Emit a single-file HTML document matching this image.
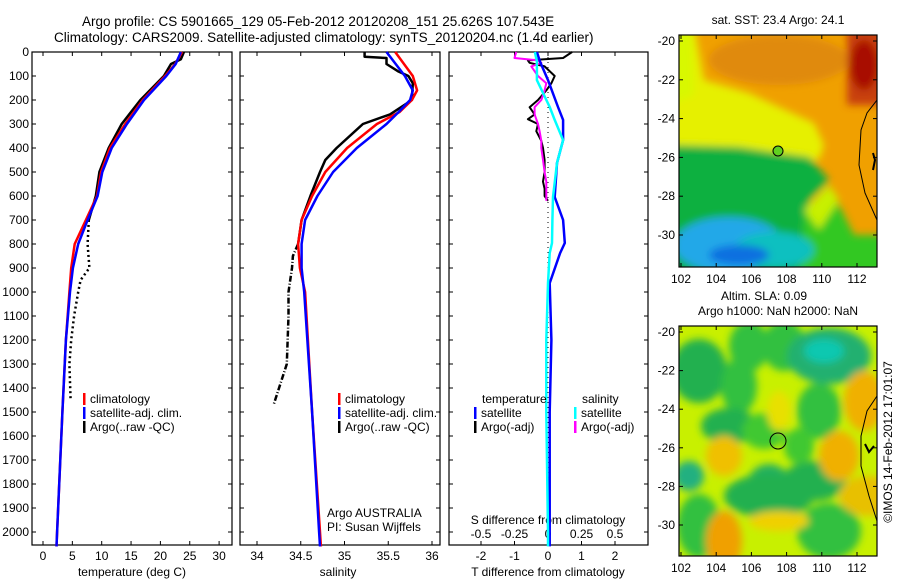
<!DOCTYPE html>
<html><head><meta charset="utf-8">
<style>
body{margin:0;background:#fff;}
svg{display:block;font-family:"Liberation Sans",sans-serif;}
</style></head>
<body>
<svg id="fig" width="900" height="580" viewBox="0 0 900 580">
<defs>
<filter id="bl" x="-20%" y="-20%" width="140%" height="140%"><feGaussianBlur stdDeviation="4"/></filter>
<clipPath id="c1"><rect x="0" y="0" width="198" height="232"/></clipPath>
<clipPath id="c2"><rect x="0" y="0" width="198" height="230"/></clipPath>
</defs>
<text x="82" y="26" font-size="13.5">Argo profile: CS 5901665_129 05-Feb-2012 20120208_151 25.626S 107.543E</text>
<text x="54" y="42" font-size="13.5">Climatology: CARS2009. Satellite-adjusted climatology: synTS_20120204.nc (1.4d earlier)</text>

<!-- Map 1 -->
<text x="778" y="24" font-size="12" text-anchor="middle">sat. SST: 23.4  Argo: 24.1</text>
<g transform="translate(679,35)">
 <g clip-path="url(#c1)">
  <rect x="-10" y="-10" width="220" height="260" fill="#f0a000"/>
  <g filter="url(#bl)">
   <ellipse cx="100" cy="25" rx="70" ry="25" fill="#e08a10"/>
   <rect x="168" y="-10" width="40" height="80" fill="#c84010"/>
   <ellipse cx="185" cy="30" rx="14" ry="25" fill="#a81000"/>
   <polygon points="-10,-10 15,-10 25,45 70,58 100,72 135,88 145,110 140,125 -10,115" fill="#e6f000"/>
   <polygon points="-10,-10 12,-10 15,60 -10,70" fill="#d8f800"/>
   <polygon points="-10,110 60,112 100,118 130,122 150,145 130,165 120,240 -10,240" fill="#10b040"/>
   <polygon points="120,240 125,180 150,150 175,200 210,200 210,240" fill="#30c820"/>
   <polygon points="125,175 150,150 160,165 140,195" fill="#c8f000"/>
   <ellipse cx="50" cy="210" rx="55" ry="28" fill="#20a8e8"/>
   <ellipse cx="95" cy="215" rx="40" ry="18" fill="#10c0c0"/>
   <ellipse cx="60" cy="220" rx="30" ry="10" fill="#1070e0"/>
  </g>
  <path d="M198,65 L188,78 L182,95 L180,130 L186,158 L198,185" fill="none" stroke="#000" stroke-width="1"/>
  <path d="M194,118 L196,125 L194,135" fill="none" stroke="#000" stroke-width="2"/>
 </g>
 <rect x="0" y="0" width="198" height="232" fill="none" stroke="#000" stroke-width="1.2"/>
 <circle cx="99" cy="116" r="5" fill="#60d020" stroke="#000"/>
</g>

<!-- Map 2 -->
<text x="764" y="300" font-size="12" text-anchor="middle">Altim. SLA: 0.09</text>
<text x="778" y="315" font-size="12" text-anchor="middle">Argo h1000: NaN h2000: NaN</text>
<g transform="translate(679,326)">
 <g clip-path="url(#c2)">
  <rect x="-10" y="-10" width="220" height="250" fill="#c8f000"/>
  <g filter="url(#bl)">
   <ellipse cx="20" cy="45" rx="28" ry="32" fill="#20b050"/>
   <ellipse cx="70" cy="20" rx="20" ry="25" fill="#30c040"/>
   <ellipse cx="105" cy="20" rx="22" ry="25" fill="#30c040"/>
   <ellipse cx="150" cy="30" rx="42" ry="28" fill="#20b070"/>
   <ellipse cx="145" cy="25" rx="20" ry="12" fill="#10c8b0"/>
   <ellipse cx="60" cy="60" rx="18" ry="28" fill="#30c040"/>
   <ellipse cx="50" cy="100" rx="28" ry="18" fill="#20b050"/>
   <ellipse cx="140" cy="85" rx="22" ry="28" fill="#30c040"/>
   <ellipse cx="85" cy="105" rx="22" ry="18" fill="#40c830"/>
   <ellipse cx="90" cy="160" rx="22" ry="22" fill="#20b060"/>
   <ellipse cx="90" cy="170" rx="45" ry="22" fill="#20b050"/>
   <ellipse cx="135" cy="155" rx="32" ry="20" fill="#20b050"/>
   <ellipse cx="150" cy="205" rx="32" ry="28" fill="#30c040"/>
   <ellipse cx="20" cy="200" rx="22" ry="32" fill="#30c040"/>
   <ellipse cx="10" cy="150" rx="15" ry="15" fill="#20b080"/>
   <ellipse cx="120" cy="120" rx="15" ry="18" fill="#40c830"/>
   <ellipse cx="185" cy="75" rx="20" ry="30" fill="#f0b000"/>
   <ellipse cx="190" cy="170" rx="30" ry="20" fill="#e8c000"/>
   <ellipse cx="160" cy="130" rx="20" ry="25" fill="#f0b000"/>
   <ellipse cx="45" cy="130" rx="18" ry="20" fill="#f0c000"/>
   <ellipse cx="45" cy="215" rx="18" ry="30" fill="#f0a000"/>
   <ellipse cx="100" cy="195" rx="30" ry="10" fill="#f0d000"/>
   <ellipse cx="100" cy="85" rx="12" ry="20" fill="#e8e000"/>
  </g>
  <path d="M198,70 L188,85 L182,110 L182,140 L190,170 L198,195" fill="none" stroke="#000" stroke-width="1"/>
  <path d="M186,118 L190,126 L195,120" fill="none" stroke="#000" stroke-width="2"/>
 </g>
 <rect x="0" y="0" width="198" height="230" fill="none" stroke="#000" stroke-width="1.2"/>
 <circle cx="99" cy="115" r="8" fill="none" stroke="#000"/>
</g>
<text transform="translate(892,442) rotate(-90)" font-size="12" text-anchor="middle">©IMOS 14-Feb-2012 17:01:07</text>
<g id="plots"></g>
</svg>
<script>
// ---- data ----
const tClimDepth=[0,50,100,200,300,400,500,600,700,800,900,1000,1200,1500,2000,2060];
const tClim=[23.7,22.5,20.8,17,14,11.4,9.9,9.2,7.3,5.4,4.8,4.5,3.9,3.3,2.4,2.3];
const tSat=[23.5,22.6,21,17.2,14.3,11.7,10.1,9.3,7.6,6.0,5.1,4.6,3.9,3.3,2.4,2.3];
const tArgoDepth=[0,30,50,100,200,300,400,500,600,700];
const tArgo=[24.0,23.5,21.8,20.6,16.6,13.4,11.2,9.6,9.0,7.8];
const tArgoDeepDepth=[700,800,900,950,1000,1100,1200,1300,1450];
const tArgoDeep=[7.8,7.6,7.9,6.4,6.0,5.3,4.8,4.5,4.7];
const sDepth=[0,100,160,200,250,300,400,500,600,700,800,900,1000,1500,2000,2060];
const sClim=[35.58,35.78,35.83,35.77,35.63,35.37,35.03,34.78,34.63,34.51,34.47,34.49,34.55,34.63,34.72,34.73];
const sSat=[35.48,35.69,35.78,35.75,35.62,35.48,35.14,34.87,34.69,34.55,34.51,34.51,34.54,34.63,34.71,34.72];
const sArgoDepth=[0,20,25,50,80,100,130,200,260,300,400,450,500,600,700,800];
const sArgo=[35.23,35.23,35.48,35.48,35.61,35.73,35.78,35.77,35.52,35.21,34.91,34.78,34.72,34.61,34.51,34.47];
const sArgoDeepDepth=[800,850,900,1000,1100,1300,1470];
const sArgoDeep=[34.47,34.41,34.40,34.36,34.36,34.34,34.19];
const dDepth=[0,40,117,229,283,367,463,604,700,796,838,963,1200,1500,2000,2060];
const dTSat=[-0.33,-0.24,0,0.3,0.45,0.45,0.27,0.2,0.45,0.5,0.36,0.05,0.1,0.05,0.05,0.05];
const dSSat=[-0.39,-0.33,-0.33,0.05,0.2,0.45,0.27,0.15,0.13,0.12,0.05,0,-0.05,-0.05,0,0];
const dArgoDepth=[0,25,35,45,60,100,130,160,200,230,260,280,300,330,370,400,450,500,540,570,600,620];
const dTArgo=[0.72,0.45,-0.6,-0.55,-0.1,0.2,0.1,-0.05,-0.3,-0.55,-0.4,-0.6,-0.3,-0.35,-0.2,-0.15,-0.1,-0.1,-0.15,-0.1,-0.1,0];
const dSArgo=[-0.95,-1.0,-0.3,-0.2,-0.5,-0.3,-0.05,-0.1,-0.2,-0.4,-0.4,-0.35,-0.3,-0.25,-0.2,-0.2,-0.15,-0.1,-0.05,-0.05,-0.05,-0.05];
const depthTicks=[0,100,200,300,400,500,600,700,800,900,1000,1100,1200,1300,1400,1500,1600,1700,1800,1900,2000];
const tTicks=[0,5,10,15,20,25,30];
const sTicks=[34,34.5,35,35.5,36];
const dTicks=[-2,-1,0,1,2];
const dSTickLabels=["-0.5","-0.25","0","0.25","0.5"];
const lonTicks=[102,104,106,108,110,112];
const latTicks=[-20,-22,-24,-26,-28,-30];

const NS="http://www.w3.org/2000/svg";
const root=document.getElementById('plots');
function el(tag,attrs,parent){const e=document.createElementNS(NS,tag);for(const k in attrs)e.setAttribute(k,attrs[k]);(parent||root).appendChild(e);return e;}
const TOP=52,BOT=545;
const yD=d=>TOP+d*0.24;
const xT=v=>43+v*5.87;
const xS=v=>257+(v-34)*87.5;
const xD=v=>548+v*33.5;

function line(xf,vals,depths,color,w,name,dash){
  const p=el('polyline',{points:vals.map((v,i)=>xf(v).toFixed(1)+','+yD(depths[i]).toFixed(1)).join(' '),fill:'none',stroke:color,'stroke-width':w,'stroke-linejoin':'round'});
  if(dash)p.setAttribute('stroke-dasharray',dash);
  
  
}
function box(x0,x1,name){
  const r=el('rect',{x:x0,y:TOP,width:x1-x0,height:BOT-TOP,fill:'none',stroke:'#000','stroke-width':1.2});
  
  
}
function txt(x,y,s,size,anchor,name){
  const t=el('text',{x:x,y:y,'font-size':size,'text-anchor':anchor||'start'});t.textContent=s;
  
  
  return t;
}
function xticks(xf,ticks,labels,name){
  ticks.forEach((v,i)=>{const x=xf(v);
    el('line',{x1:x,x2:x,y1:BOT,y2:BOT-4,stroke:'#000'});
    el('line',{x1:x,x2:x,y1:TOP,y2:TOP+4,stroke:'#000'});
    txt(x,560,labels?labels[i]:String(v),12,'middle',name);});
}
box(32,232,'temperature-panel');box(240,440,'salinity-panel');box(449,648,'difference-panel');
depthTicks.forEach(d=>{const y=yD(d);
  [[32,36],[228,232],[240,244],[436,440],[449,453],[644,648]].forEach(a=>el('line',{x1:a[0],x2:a[1],y1:y,y2:y,stroke:'#000'}));
  txt(29,y+4,String(d),12,'end','depth-tick-label');});
xticks(xT,tTicks,null,'temperature-tick-label');
xticks(xS,sTicks,null,'salinity-tick-label');
xticks(xD,dTicks,null,'t-diff-tick-label');
dTicks.forEach((v,i)=>txt(xD(v),538,dSTickLabels[i],12,'middle','s-diff-tick-label'));
txt(132,576,'temperature (deg C)',12,'middle','temperature-axis-title');
txt(338,576,'salinity',12,'middle','salinity-axis-title');
txt(548,576,'T difference from climatology',12,'middle','t-diff-axis-title');
txt(548,524,'S difference from climatology',12,'middle','s-diff-axis-title');
const z=el('line',{x1:xD(0),x2:xD(0),y1:yD(0),y2:yD(2050),stroke:'#000','stroke-dasharray':'1,4'});


line(xT,tArgo,tArgoDepth,'#000',2.5,'temp-argo-line');
line(xT,tArgoDeep,tArgoDeepDepth,'#000',2.5,'temp-argo-deep-line','2,3');
line(xT,tClim,tClimDepth,'#f00',2.5,'temp-clim-line');
line(xT,tSat,tClimDepth,'#00f',2.5,'temp-sat-line');
line(xS,sArgo,sArgoDepth,'#000',2.5,'sal-argo-line');
line(xS,sArgoDeep,sArgoDeepDepth,'#000',2.5,'sal-argo-deep-line','6,2,1,2');
line(xS,sClim,sDepth,'#f00',2.5,'sal-clim-line');
line(xS,sSat,sDepth,'#00f',2.5,'sal-sat-line');
line(xD,dTArgo,dArgoDepth,'#000',2,'t-diff-argo-line');
line(xD,dSArgo,dArgoDepth,'#f0f',2,'s-diff-argo-line');
line(xD,dTSat,dDepth,'#00f',2.5,'t-diff-sat-line');
line(xD,dSSat,dDepth,'#0ff',2.5,'s-diff-sat-line');
function leg(x,y,color,label,name){
  const b=el('rect',{x:x,y:y-10,width:2.5,height:12,fill:color});
  
  
  txt(x+7,y,label,12,'start',name);
}
leg(83,403,'#f00','climatology','legend-temp-climatology');
leg(83,417,'#00f','satellite-adj. clim.','legend-temp-satellite');
leg(83,431,'#000','Argo(..raw -QC)','legend-temp-argo');
leg(338,403,'#f00','climatology','legend-sal-climatology');
leg(338,417,'#00f','satellite-adj. clim.','legend-sal-satellite');
leg(338,431,'#000','Argo(..raw -QC)','legend-sal-argo');
txt(482,403,'temperature',12,'start','legend-temperature-header');
txt(582,403,'salinity',12,'start','legend-salinity-header');
leg(474,417,'#00f','satellite','legend-t-satellite');
leg(474,431,'#000','Argo(-adj)','legend-t-argo');
leg(574,417,'#0ff','satellite','legend-s-satellite');
leg(574,431,'#f0f','Argo(-adj)','legend-s-argo');
txt(327,517,'Argo AUSTRALIA',12,'start','argo-australia-label');
txt(327,531,'PI: Susan Wijffels',12,'start','pi-label');
function mapAxes(y0,h,lat0y,latStep,name){
  lonTicks.forEach(v=>{const x=681+(v-102)*17.6;
    el('line',{x1:x,x2:x,y1:y0+h,y2:y0+h-4,stroke:'#000'});
    el('line',{x1:x,x2:x,y1:y0,y2:y0+4,stroke:'#000'});
    txt(x,y0+h+16,String(v),12,'middle',name+'-lon-label');});
  latTicks.forEach(v=>{const y=lat0y+(-20-v)*latStep;
    el('line',{x1:679,x2:683,y1:y,y2:y,stroke:'#000'});
    el('line',{x1:873,x2:877,y1:y,y2:y,stroke:'#000'});
    txt(675,y+4,String(v),12,'end',name+'-lat-label');});
}
mapAxes(35,232,41,19.4,'sst-map');
mapAxes(326,230,332,19.3,'sla-map');
</script>
</body></html>
